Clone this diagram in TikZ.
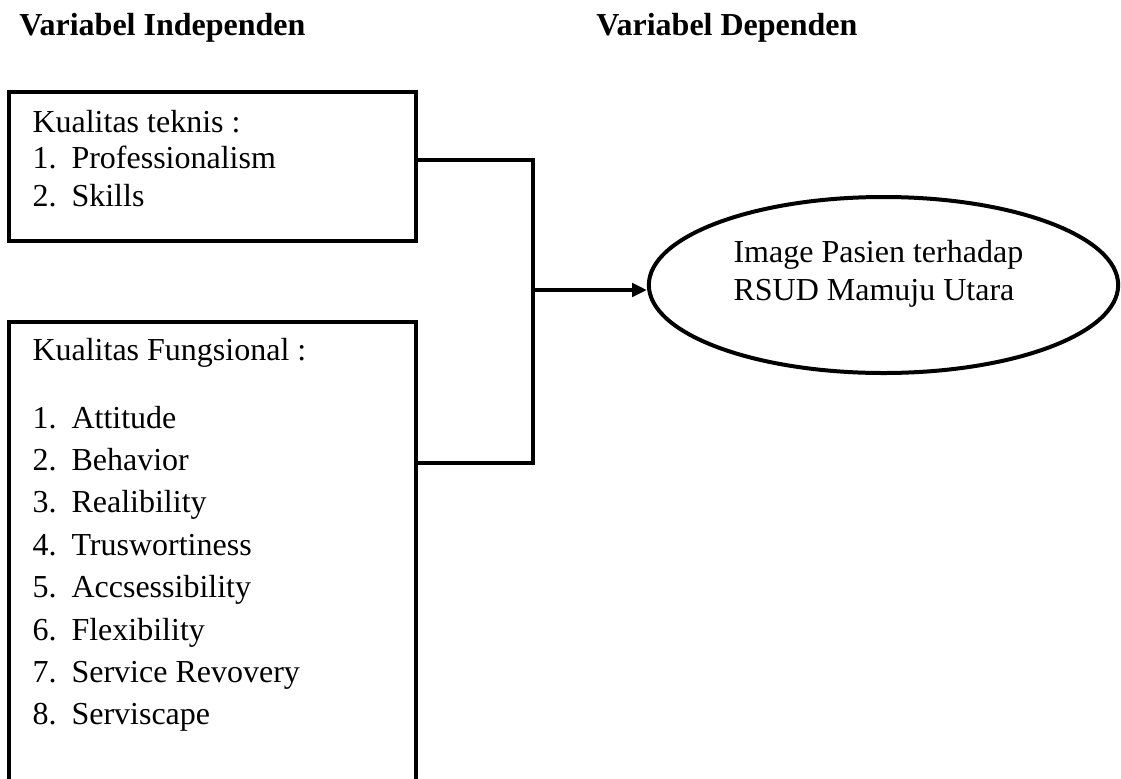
\documentclass[tikz,border=0pt]{standalone}
\usepackage{fontspec}
\setmainfont{Liberation Serif}
\usepackage{tikz}
\usetikzlibrary{positioning}
\usetikzlibrary{arrows.meta}
\usetikzlibrary{shapes.geometric}
\usetikzlibrary{fit}
\tikzset{
    every node/.append style={
        font=\fontsize{12}{14}\selectfont
    },
    kotak/.style={
        draw,
        line width=1.5pt,
        inner sep=0pt
    },
    oval/.style={
        draw,
        ellipse,
        line width=1.5pt,
        inner sep=0pt,
        minimum width=176pt,
        minimum height=66pt
    },
    judul/.style={
        anchor=base west,
        font=\fontsize{12}{14}\selectfont\bfseries
    },
    teks/.style={
        anchor=base west,
        inner sep=0pt
    },
    garis/.style={
        draw,
        line width=1.5pt
    },
    panah/.style={
        garis,
        -{Triangle[length=5.5pt,width=5pt]}
    }
}

\begin{document}
\begin{tikzpicture}[x=0.375pt, y=-0.375pt]
                \useasboundingbox (0,0) rectangle (1121,778);
                \clip (0,0) rectangle (1121,778);

                \node[judul] (indep) at (10,35) {Variabel Independen};
                \node[judul] (dep) at (587,35) {Variabel Dependen};

                % kotak kualitas teknis
                \node[kotak, fit={(9,92) (416,241)}] (teknis) {};
                \node[teks] (teknisjudul) at (32,132) {Kualitas teknis :};
                \foreach \no/\isi [count=\i from 0] in {1/Professionalism, 2/Skills} {
                    \node[teks] (tno\no) at (32,{168+38*\i}) {\no.};
                    \node[teks] (tisi\no) at (71,{168+38*\i}) {\isi};
                }

                % kotak kualitas fungsional
                \node[kotak, fit={(9,322) (416,830)}] (fungsional) {};
                \node[teks] (fungsijudul) at (32,360) {Kualitas Fungsional :};
                \foreach \no/\isi [count=\i from 0] in {1/Attitude, 2/Behavior, 3/Realibility, 4/Truswortiness, 5/Accsessibility, 6/Flexibility, 7/Service Revovery, 8/Serviscape} {
                    \node[teks] (fno\no) at (32,{428+42.4*\i}) {\no.};
                    \node[teks] (fisi\no) at (71,{428+42.4*\i}) {\isi};
                }

                % variabel dependen
                \node[oval] (image) at (883.5,285) {};
                \node[teks] (imagea) at (733,262) {Image Pasien terhadap};
                \node[teks] (imageb) at (733,300) {RSUD Mamuju Utara};

                \coordinate (gabung) at (533,290);
                \draw[garis] (teknis.east |- 0,160) -| (gabung) |- (fungsional.east |- 0,463);
                \draw[panah] (gabung) -- (gabung -| image.west);
            \end{tikzpicture}
\end{document}
